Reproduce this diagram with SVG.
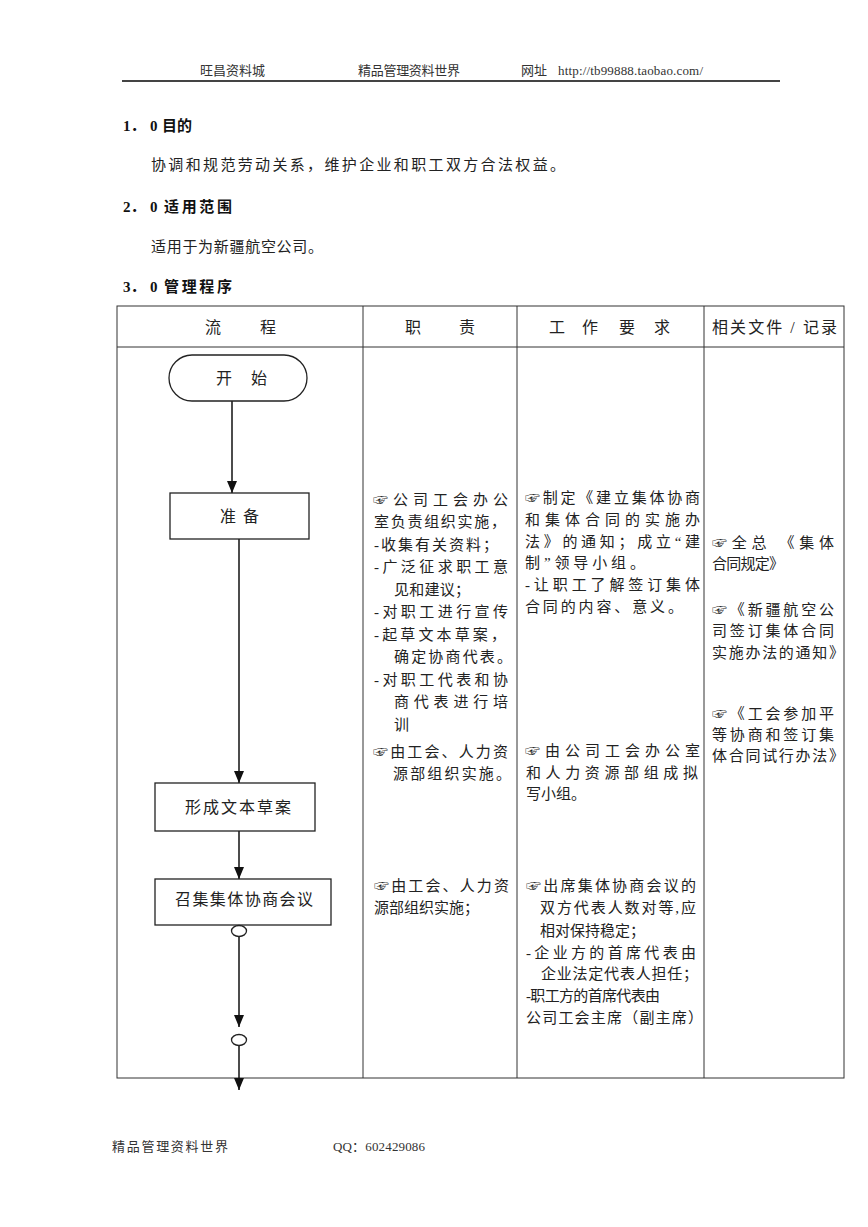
<svg xmlns="http://www.w3.org/2000/svg" width="868" height="1227" viewBox="0 0 868 1227">
<style>
text{font-family:"Liberation Serif","Noto Sans CJK SC",serif;fill:#222}
.hd{font-size:13px;fill:#333}
.ti{font-size:15px;font-weight:bold;fill:#111}
.bd{font-size:15px}
.th{font-size:16px}
.c{font-size:15px}
.grid{stroke:#333;stroke-width:1;fill:none}
.node{fill:#fff;stroke:#222;stroke-width:1.3}
.ln{stroke:#111;stroke-width:1.5;fill:none}
</style>
<defs>
<marker id="ah" markerWidth="12" markerHeight="10" refX="12" refY="5" orient="auto" markerUnits="userSpaceOnUse" viewBox="0 0 12 10">
<path d="M0,0 L12,5 L0,10 Z" fill="#111"/>
</marker>
</defs>
<rect width="868" height="1227" fill="#fff"/>
<g id="page-header">
<text class="hd" x="200" y="75" textLength="65">旺昌资料城</text>
<text class="hd" x="358" y="75" textLength="102">精品管理资料世界</text>
<text class="hd" x="521" y="75">网址</text>
<text class="hd" x="558" y="75" textLength="145">http://tb99888.taobao.com/</text>
<line x1="122" y1="81" x2="780" y2="81" stroke="#444" stroke-width="1.8"/>
</g>
<g id="sections">
<text class="ti" x="123" y="131">1．<tspan x="150">0</tspan><tspan x="162">目的</tspan></text>
<text class="bd" x="151" y="170" textLength="414">协调和规范劳动关系，维护企业和职工双方合法权益。</text>
<text class="ti" x="123" y="212">2．<tspan x="150">0</tspan><tspan x="164" textLength="68">适用范围</tspan></text>
<text class="bd" x="151" y="252" textLength="172">适用于为新疆航空公司。</text>
<text class="ti" x="123" y="292">3．<tspan x="150">0</tspan><tspan x="164" textLength="68">管理程序</tspan></text>
</g>
<g id="table">
<rect class="grid" x="117" y="306" width="727" height="772"/>
<line class="grid" x1="117" y1="347" x2="844" y2="347"/>
<line class="grid" x1="363" y1="306" x2="363" y2="1078"/>
<line class="grid" x1="517" y1="306" x2="517" y2="1078"/>
<line class="grid" x1="704" y1="306" x2="704" y2="1078"/>
<text class="th" x="205 260" y="333">流程</text>
<text class="th" x="405 459" y="333">职责</text>
<text class="th" x="549 582 619 654" y="333">工作要求</text>
<text class="th" x="712" y="333" textLength="125">相关文件 / 记录</text>
</g>
<g id="connectors">
<line class="ln" x1="232" y1="401" x2="232" y2="493" marker-end="url(#ah)"/>
<line class="ln" x1="239" y1="539" x2="239" y2="783" marker-end="url(#ah)"/>
<line class="ln" x1="239" y1="831" x2="239" y2="879" marker-end="url(#ah)"/>
<line class="ln" x1="239" y1="937" x2="239" y2="1027" marker-end="url(#ah)"/>
<line class="ln" x1="239" y1="1046" x2="239" y2="1090" marker-end="url(#ah)"/>
</g>
<g id="start">
<rect class="node" x="169" y="355" width="138" height="46" rx="23"/>
<text class="th" x="216 251" y="384">开始</text>
</g>
<g id="prepare">
<rect class="node" x="170" y="493" width="139" height="46"/>
<text class="th" x="220 243" y="522">准备</text>
</g>
<g id="draft">
<rect class="node" x="155" y="783" width="160" height="48"/>
<text class="th" x="185" y="813" textLength="106">形成文本草案</text>
</g>
<g id="meeting">
<rect class="node" x="155" y="879" width="176" height="46"/>
<text class="th" x="175" y="905" textLength="138">召集集体协商会议</text>
</g>
<g id="conn-circle-1">
<ellipse class="node" cx="239" cy="931" rx="7.5" ry="5.5"/>
</g>
<g id="conn-circle-2">
<ellipse class="node" cx="239" cy="1040" rx="7.5" ry="5.5"/>
</g>
<g id="duty-text">
<text class="c" x="373" y="505" textLength="135">☞公司工会办公</text>
<text class="c" x="374" y="527" textLength="132">室负责组织实施，</text>
<text class="c" x="374" y="550" textLength="124">-收集有关资料；</text>
<text class="c" x="374" y="572" textLength="134">-广泛征求职工意</text>
<text class="c" x="394" y="595" textLength="76">见和建议；</text>
<text class="c" x="374" y="617" textLength="134">-对职工进行宣传</text>
<text class="c" x="374" y="640" textLength="132">-起草文本草案，</text>
<text class="c" x="394" y="662" textLength="118">确定协商代表。</text>
<text class="c" x="374" y="685" textLength="134">-对职工代表和协</text>
<text class="c" x="394" y="707" textLength="114">商代表进行培</text>
<text class="c" x="394" y="730">训</text>
<text class="c" x="373" y="757" textLength="135">☞由工会、人力资</text>
<text class="c" x="393" y="779" textLength="118">源部组织实施。</text>
<text class="c" x="374" y="891" textLength="135">☞由工会、人力资</text>
<text class="c" x="374" y="913">源部组织实施；</text>
</g>
<g id="req-text">
<text class="c" x="525" y="503" textLength="175">☞制定《建立集体协商</text>
<text class="c" x="525" y="525" textLength="175">和集体合同的实施办</text>
<text class="c" x="525" y="547" textLength="175">法》的通知；成立“建</text>
<text class="c" x="525" y="568" textLength="120">制”领导小组。</text>
<text class="c" x="525" y="590" textLength="175">-让职工了解签订集体</text>
<text class="c" x="525" y="612" textLength="158">合同的内容、意义。</text>
<text class="c" x="525" y="756" textLength="175">☞由公司工会办公室</text>
<text class="c" x="526" y="778" textLength="172">和人力资源部组成拟</text>
<text class="c" x="526" y="799">写小组。</text>
<text class="c" x="526" y="891" textLength="170">☞出席集体协商会议的</text>
<text class="c" x="540" y="913" textLength="156">双方代表人数对等,应</text>
<text class="c" x="540" y="936">相对保持稳定；</text>
<text class="c" x="526" y="958" textLength="170">-企业方的首席代表由</text>
<text class="c" x="541" y="979" textLength="157">企业法定代表人担任；</text>
<text class="c" x="526" y="1001" textLength="134">-职工方的首席代表由</text>
<text class="c" x="526" y="1023" textLength="177">公司工会主席（副主席）</text>
</g>
<g id="doc-text">
<text class="c" x="712" y="548" textLength="122">☞全总  《集体</text>
<text class="c" x="712" y="569" textLength="72">合同规定》</text>
<text class="c" x="712" y="615" textLength="122">☞《新疆航空公</text>
<text class="c" x="712" y="636" textLength="122">司签订集体合同</text>
<text class="c" x="712" y="658" textLength="132">实施办法的通知》</text>
<text class="c" x="712" y="719" textLength="122">☞《工会参加平</text>
<text class="c" x="712" y="740" textLength="122">等协商和签订集</text>
<text class="c" x="712" y="761" textLength="132">体合同试行办法》</text>
</g>
<g id="page-footer">
<text class="hd" x="112" y="1151" textLength="116">精品管理资料世界</text>
<text class="hd" x="333" y="1151" textLength="92">QQ：602429086</text>
</g>
</svg>
